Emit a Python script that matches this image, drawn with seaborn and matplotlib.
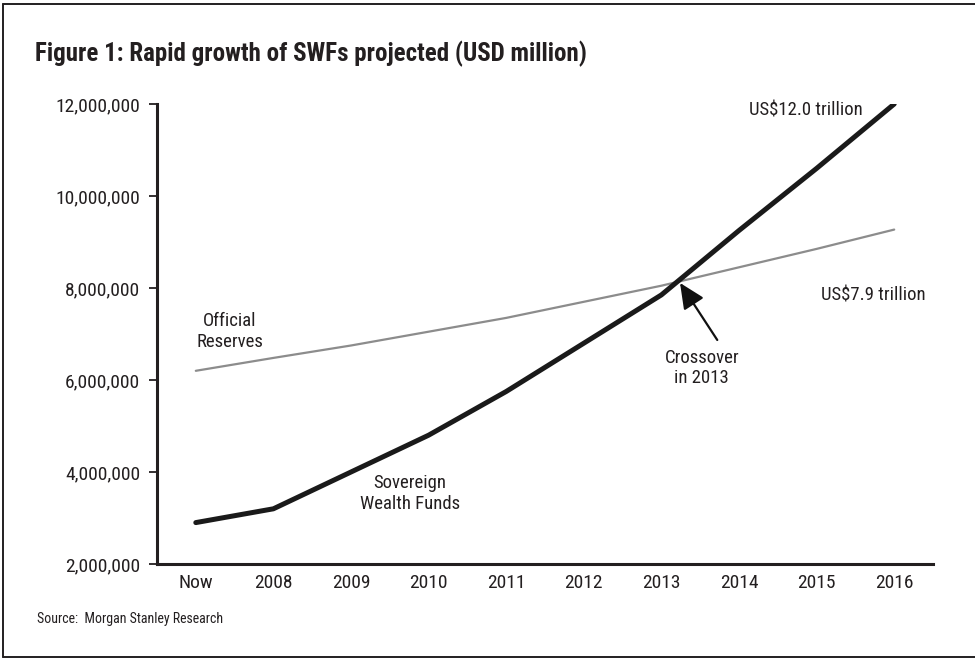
import matplotlib
matplotlib.use("Agg")
import matplotlib.pyplot as plt
import matplotlib.font_manager as fm
from matplotlib.lines import Line2D
import seaborn as sns
import pandas as pd
import numpy as np

categories = ["Now", "2008", "2009", "2010", "2011", "2012", "2013", "2014", "2015", "2016"]
swf = [2900000, 3200000, 4000000, 4800000, 5750000, 6800000, 7850000, 9250000, 10600000, 12000000]
reserves = [6200000, 6480000, 6750000, 7050000, 7350000, 7700000, 8050000, 8450000, 8850000, 9270000]
yticks = [2000000, 4000000, 6000000, 8000000, 10000000, 12000000]

sns.set_theme(style="white")
avail = {f.name for f in fm.fontManager.ttflist}
fam = None
for cand in ["Roboto Condensed", "Liberation Sans Narrow", "DejaVu Sans"]:
    if cand in avail:
        fam = cand
        break
plt.rcParams['font.family'] = [fam, 'DejaVu Sans']
if fam == "DejaVu Sans":
    plt.rcParams['font.stretch'] = 'condensed'

df = pd.DataFrame({
    "cat": categories * 2,
    "x": list(range(len(categories))) * 2,
    "value": swf + reserves,
    "series": ["Sovereign Wealth Funds"] * len(categories) + ["Official Reserves"] * len(categories),
})

fig = plt.figure(figsize=(9.75, 6.61), dpi=100)
ax = fig.add_axes([157/975, 1-564/661, (933-157)/975, (564-104)/661])

sns.lineplot(data=df[df.series == "Official Reserves"], x="x", y="value", ax=ax,
             color="#8c8c8c", linewidth=1.6, legend=False)
sns.lineplot(data=df[df.series == "Sovereign Wealth Funds"], x="x", y="value", ax=ax,
             color="#1a1a1a", linewidth=3.6, legend=False)

tc = "#231f20"
ax.set_xlim(-0.5, len(categories) - 0.5)
ax.set_ylim(2000000, 12000000)
ax.set_xlabel("")
ax.set_ylabel("")
ax.set_xticks(range(len(categories)))
ax.set_xticklabels(categories, fontsize=14, color=tc)
ax.set_xticks(np.arange(-0.5, len(categories), 1.0), minor=True)
ax.tick_params(axis="x", which="major", length=0, pad=7)
ax.tick_params(axis="x", which="minor", length=6, width=1.3, color=tc, direction="out")
ax.set_yticks(yticks)
ax.set_yticklabels([f"{v:,}" for v in yticks], fontsize=14, color=tc)
ax.tick_params(axis="y", length=6, width=1.3, color=tc, direction="out", pad=6, left=True)
for s in ["top", "right"]:
    ax.spines[s].set_visible(False)
for s in ["left", "bottom"]:
    ax.spines[s].set_linewidth(2.2)
    ax.spines[s].set_color(tc)
ax.grid(False)

fs = 13.5
ax.text(0.44, 7.05e6, "Official\nReserves", ha="center", va="center", fontsize=fs,
        color=tc, linespacing=1.2)
ax.text(2.76, 3.54e6, "Sovereign\nWealth Funds", ha="center", va="center", fontsize=fs,
        color=tc, linespacing=1.2)
ax.text(7.86, 11.85e6, "US$12.0 trillion", ha="center", va="center", fontsize=fs, color=tc)
ax.text(8.73, 7.83e6, "US$7.9 trillion", ha="center", va="center", fontsize=fs, color=tc)
ax.text(6.52, 6.26e6, "Crossover\nin 2013", ha="center", va="center", fontsize=fs,
        color=tc, linespacing=1.2)
ax.annotate("", xy=(6.24, 8.11e6), xytext=(6.72, 6.87e6),
            arrowprops=dict(arrowstyle="-|>,head_length=1.3,head_width=0.6", color="#111111",
                            lw=1.6, shrinkA=0, shrinkB=0))

fig.text(35/975, 1-54/661, "Figure 1: Rapid growth of SWFs projected (USD million)",
         fontsize=18, fontweight="bold", color=tc, ha="left", va="center")
fig.text(37/975, 1-619/661, "Source:  Morgan Stanley Research", fontsize=10,
         color=tc, ha="left", va="center")

# frame around the figure
for (x0, y0, x1, y1) in [(3, 4, 3, 657), (3, 4, 975, 4), (3, 657, 975, 657)]:
    fig.add_artist(Line2D([x0/975, x1/975], [1-y0/661, 1-y1/661], color=tc, lw=1.4))

fig.savefig("out.png", dpi=100)
